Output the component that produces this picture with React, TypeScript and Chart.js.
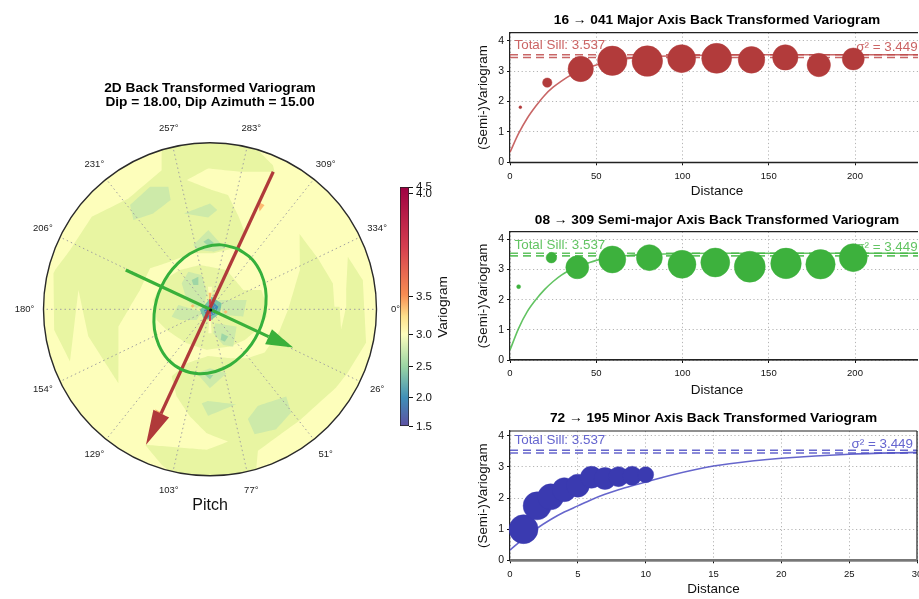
import React, { useEffect, useRef } from "react";
import { Chart, registerables } from "chart.js";

Chart.register(...registerables);
Chart.defaults.font.family = "'Liberation Sans', Arial, sans-serif";
Chart.defaults.color = "#111";

type P = [number, number];

// ---------- Polar panel (lag plane, rim at 500 units) ----------
const thetaDegrees = [0, 25.71, 51.43, 77.14, 102.86, 128.57, 154.29, 180, 205.71, 231.43, 257.14, 282.86, 308.57, 334.29];
const thetaLabels = ["0°", "26°", "51°", "77°", "103°", "129°", "154°", "180°", "206°", "231°", "257°", "283°", "309°", "334°"];

const band275Main: P[] = [[-470,108],[-465,118],[-420,178],[-355,278],[-245,333],[-145,418],[-145,480],[-100,490],[-40,498],[20,499],[80,493],[144,478],[189,433],[194,413],[94,413],[-6,423],[-70,388],[6,358],[54,343],[84,283],[104,233],[90,188],[10,168],[-55,168],[-120,143],[-180,123],[-210,58],[-240,8],[-275,-52],[-275,-222],[-365,-82],[-395,58],[-420,-157],[-468,-62]];
const band275Centre: P[] = [[-160,-32],[-170,28],[-140,88],[-90,118],[-30,133],[50,118],[100,58],[154,58],[169,18],[170,-22],[140,-62],[105,-92],[60,-112],[-10,-122],[-70,-102],[-130,-62]];
const band275South: P[] = [[269,226],[324,153],[369,78],[374,8],[389,8],[394,-60],[409,8],[409,58],[414,158],[459,88],[464,-8],[469,-100],[414,-190],[379,-235],[274,-330],[144,-425],[139,-480],[75,-494],[0,-499],[-75,-494],[-125,-484],[-145,-467],[-195,-407],[-10,-422],[55,-397],[-10,-372],[-60,-322],[-100,-262],[-115,-202],[-70,-162],[-6,-140],[64,-147],[114,-147],[164,-130],[209,-65],[235,0],[255,68],[270,118]];

const band250Rings: P[][] = [
  [[-240,313],[-180,368],[-125,368],[-118,328],[-170,288],[-230,268]],
  [[-78,288],[0,318],[22,298],[-5,276]],
  [[-50,193],[-5,238],[45,183],[10,173],[-40,178]],
  [[-85,78],[-65,113],[-25,103],[-10,53],[-15,18],[-40,3],[-70,28]],
  [[25,28],[110,28],[100,-22],[40,-17]],
  [[-115,-22],[-95,13],[-25,-7],[-40,-32],[-90,-32]],
  [[15,-42],[80,-52],[70,-112],[40,-107],[10,-72]],
  [[-40,-192],[0,-177],[50,-192],[0,-237]],
  [[-25,-282],[-6,-275],[79,-285],[-6,-320]],
  [[114,-330],[144,-290],[229,-262],[244,-310],[199,-360],[134,-375]],
];
const band225Rings: P[][] = [
  [[-20,203],[-5,213],[12,200],[-5,190]],
  [[-55,88],[-35,98],[-35,73],[-50,73]],
  [[35,-72],[55,-82],[45,-97],[32,-92]],
  [[-15,-197],[10,-197],[0,-210]],
];
const band200Ring: P[] = [[-30,-2],[5,38],[35,18],[30,-12],[5,-32],[-20,-27]];
const band175Ring: P[] = [[-18,-2],[8,23],[25,8],[15,-14],[-10,-27]];
const band150Ring: P[] = [[-10,0],[5,8],[8,-7],[-5,-14]];
const band300Rings: P[][] = [
  [[-6,68],[0,0],[6,68]],
  [[-5,-72],[0,0],[5,-72]],
];
const band325Rings: P[][] = [
  [[-4,50],[0,0],[4,50]],
  [[-58,10],[-52,15],[-46,10],[-52,5]],
  [[41,-8],[47,-3],[53,-8],[47,-13]],
  [[144,323],[164,313],[149,293]],
  [[-165,-300],[-145,-310],[-160,-317]],
];
const band400Ring: P[] = [[-3,30],[3,30],[3,-35],[-3,-35]];

const majorArrowLine: P[] = [[190,413],[-147,-313]];
const majorArrowHead: P[] = [[-192,-407],[-170,-302],[-123,-325]];
const semiArrowLine: P[] = [[-253,118],[176,-82]];
const semiArrowHead: P[] = [[250,-115],[186,-60],[166,-105]];
const ellipseTiltDeg = 65;
const ellipseAngles = [0,15,30,45,60,75,90,105,120,135,150,165,180,195,210,225,240,255,270,285,300,315,330,345,360];
const ellipseRadii = [200,196.5,187.5,177.5,168.5,163,161,163,168.5,177.5,187.5,196.5,200,196.5,187.5,177.5,168.5,163,161,163,168.5,177.5,187.5,196.5,200];
const centreMark: P[] = [[2,-2]];

// ---------- Colour bar ----------
const cbarLabels = ["1.5", "2.0", "2.5", "3.0", "3.5", "4.0", "4.5"];
const cbarPositions = [0, 0.119, 0.25, 0.384, 0.543, 0.972, 1];
const cbarStopAt = [0, 0.12, 0.25, 0.385, 0.46, 0.55, 0.75, 1];
const cbarStopColors = ["#5e4fa2", "#3f8fb8", "#99d5a4", "#fefebd", "#fee08b", "#f88d52", "#d53e4f", "#9e0142"];

// ---------- Variograms ----------
const totalSill = 3.537;
const sigmaSq = 3.449;

const majorLag = [6, 21.6, 41, 59.3, 79.6, 99.5, 119.8, 140, 159.6, 179, 199];
const majorGamma = [1.81, 2.62, 3.07, 3.34, 3.33, 3.41, 3.42, 3.37, 3.45, 3.2, 3.4];
const majorPairs = [2, 22, 161, 216, 234, 196, 225, 177, 161, 137, 121];
const majorModelLag = [0, 5, 10, 15, 20, 25, 30, 35, 40, 50, 60, 70, 80, 100, 120, 150, 240];
const majorModel = [0.33, 0.95, 1.45, 1.85, 2.2, 2.47, 2.68, 2.86, 3.0, 3.2, 3.33, 3.42, 3.47, 3.51, 3.53, 3.537, 3.537];

const semiLag = [5, 24, 39, 59.3, 80.8, 99.7, 119, 139, 160, 180, 199];
const semiGamma = [2.43, 3.39, 3.07, 3.33, 3.39, 3.17, 3.23, 3.09, 3.2, 3.17, 3.39];
const semiPairs = [4, 28, 132, 182, 169, 196, 210, 240, 234, 216, 196];
const semiModelLag = [0, 5, 10, 15, 20, 25, 30, 35, 40, 50, 60, 70, 80, 100, 120, 240];
const semiModel = [0.33, 1.05, 1.6, 2.0, 2.33, 2.6, 2.82, 2.98, 3.1, 3.3, 3.41, 3.47, 3.5, 3.53, 3.537, 3.537];

const minorLag = [1, 2, 3, 4, 5, 6, 7, 8, 9, 10];
const minorGamma = [1.0, 1.75, 2.04, 2.27, 2.4, 2.67, 2.63, 2.69, 2.72, 2.75];
const minorPairs = [210, 196, 169, 144, 132, 121, 121, 100, 90, 64];
const minorModelLag = [0, 1, 2, 3, 4, 5, 6, 7, 8, 9, 10, 12, 15, 18, 20, 25, 30];
const minorModel = [0.33, 0.7, 1.03, 1.31, 1.55, 1.75, 1.95, 2.12, 2.27, 2.4, 2.52, 2.75, 3.03, 3.2, 3.28, 3.41, 3.47];

const xy = (r: P[]) => r.map(([x, y]) => ({ x, y }));

function PolarPanel() {
  const ref = useRef<HTMLCanvasElement>(null);
  useEffect(() => {
    const ring = (pts: P[], color: string) => ({
      data: xy(pts), showLine: true, fill: "shape", backgroundColor: color, borderWidth: 0, pointRadius: 0, tension: 0.0001,
    });
    const RED = "#b03a3a";
    const GREEN = "#3ab03a";
    const spokes = thetaDegrees.map((d) => {
      const a = (d * Math.PI) / 180;
      return {
        data: [{ x: 0, y: 0 }, { x: 500 * Math.cos(a), y: -500 * Math.sin(a) }],
        showLine: true, borderColor: "#a0a0a0", borderWidth: 1, borderDash: [1.5, 3], pointRadius: 0, fill: false,
      };
    });
    const ellipse = ellipseAngles.map((p, i) => {
      const a = ((p + ellipseTiltDeg) * Math.PI) / 180;
      return { x: ellipseRadii[i] * Math.cos(a), y: ellipseRadii[i] * Math.sin(a) };
    });
    const paint: any[] = [
      ring(band275Main, "#e8f5a2"),
      ring(band275Centre, "#e8f5a2"),
      ring(band275South, "#e8f5a2"),
      ...band250Rings.map((r) => ring(r, "#cdeaa9")),
      ...band225Rings.map((r) => ring(r, "#9fd6a6")),
      ring(band200Ring, "#78c6a6"),
      ring(band175Ring, "#3f8fb8"),
      ring(band150Ring, "#4a4f9e"),
      ...band300Rings.map((r) => ring(r, "#fefebd")),
      ...band325Rings.map((r) => ring(r, "#fdbb70")),
      ring(band400Ring, "#d53e4f"),
      ...spokes,
      { data: xy(majorArrowLine), showLine: true, borderColor: RED, borderWidth: 3.2, pointRadius: 0, fill: false },
      ring(majorArrowHead, RED),
      { data: ellipse, showLine: true, borderColor: "#35b03c", borderWidth: 3, pointRadius: 0, fill: false, tension: 0.4 },
      { data: xy(semiArrowLine), showLine: true, borderColor: GREEN, borderWidth: 3.2, pointRadius: 0, fill: false },
      ring(semiArrowHead, GREEN),
      { data: xy(centreMark), pointRadius: 1.6, pointBackgroundColor: "#111", pointBorderWidth: 0 },
    ];
    paint.forEach((d, i) => (d.order = paint.length - i));
    const frame = {
      id: "polarFrame",
      beforeDatasetsDraw(c: any) {
        const g = c.ctx, X = c.scales.x, Y = c.scales.y;
        const cx = X.getPixelForValue(0), cy = Y.getPixelForValue(0), R = X.getPixelForValue(500) - cx;
        g.save(); g.beginPath(); g.arc(cx, cy, R, 0, Math.PI * 2); g.fillStyle = "#fdfebb"; g.fill(); g.restore();
      },
      afterDatasetsDraw(c: any) {
        const g = c.ctx, X = c.scales.x, Y = c.scales.y;
        const cx = X.getPixelForValue(0), cy = Y.getPixelForValue(0), R = X.getPixelForValue(500) - cx;
        g.save();
        g.beginPath(); g.arc(cx, cy, R, 0, Math.PI * 2); g.strokeStyle = "#2a2a2a"; g.lineWidth = 1.4; g.stroke();
        g.fillStyle = "#222"; g.font = "9.5px 'Liberation Sans'"; g.textAlign = "center"; g.textBaseline = "middle";
        thetaDegrees.forEach((d, i) => {
          const a = (d * Math.PI) / 180;
          g.fillText(thetaLabels[i], X.getPixelForValue(557 * Math.cos(a)), Y.getPixelForValue(-557 * Math.sin(a)));
        });
        g.restore();
      },
    };
    const chart = new Chart(ref.current!, {
      type: "scatter",
      data: { datasets: paint },
      plugins: [frame],
      options: {
        responsive: false, animation: false, events: [],
        layout: { padding: { left: 43.5, right: 53.5, top: 0, bottom: 0 } },
        plugins: {
          legend: { display: false }, tooltip: { enabled: false },
          title: {
            display: true,
            text: ["2D Back Transformed Variogram", "Dip = 18.00, Dip Azimuth = 15.00"],
            color: "#000", font: { size: 13.7, weight: "bold", lineHeight: 1.03 },
            padding: { top: 81.5, bottom: 33.1 },
          },
        },
        scales: {
          x: {
            min: -500, max: 500, grid: { display: false }, border: { display: false }, ticks: { display: false },
            title: { display: true, text: "Pitch", color: "#111", font: { size: 16 }, padding: { bottom: 24.4, top: 0 } },
            afterFit: (s: any) => { s.height = 64.2; },
          },
          y: { min: -500, max: 500, display: false },
        },
      } as any,
    });
    return () => chart.destroy();
  }, []);
  return <canvas ref={ref} width={430} height={540} style={{ position: "absolute", left: 0, top: 0 }} />;
}

function ColorBar() {
  const ref = useRef<HTMLCanvasElement>(null);
  useEffect(() => {
    const fillBar = (c: any) => {
      const a = c.chart.chartArea;
      if (!a) return "#fff";
      const g = c.chart.ctx.createLinearGradient(0, a.bottom, 0, a.top);
      cbarStopAt.forEach((s, i) => g.addColorStop(s, cbarStopColors[i]));
      return g;
    };
    const label = {
      id: "cbarLabel",
      afterDraw(c: any) {
        const g = c.ctx;
        g.save(); g.translate(48.5, 137); g.rotate(-Math.PI / 2);
        g.font = "13.6px 'Liberation Sans'"; g.fillStyle = "#111"; g.textAlign = "center"; g.textBaseline = "middle";
        g.fillText("Variogram", 0, 0); g.restore();
      },
    };
    const chart = new Chart(ref.current!, {
      type: "bar",
      data: { labels: ["Variogram"], datasets: [{ data: [1], backgroundColor: fillBar, borderColor: "#222", borderWidth: 1, borderSkipped: false, barPercentage: 1, categoryPercentage: 1 }] },
      plugins: [label],
      options: {
        responsive: false, animation: false, events: [],
        layout: { padding: { left: 5, right: 0, top: 17, bottom: 13.5 } },
        plugins: { legend: { display: false }, tooltip: { enabled: false } },
        scales: {
          x: { display: false },
          y: {
            position: "right", min: 0, max: 1,
            afterBuildTicks: (s: any) => { s.ticks = cbarPositions.map((value) => ({ value })); },
            afterFit: (s: any) => { s.width = 61; },
            grid: { drawOnChartArea: false, tickLength: 4, tickColor: "#111" },
            border: { display: false },
            ticks: { autoSkip: false, padding: 3, color: "#111", font: { size: 11.5 }, callback: (_: any, i: number) => cbarLabels[i] },
          },
        },
      } as any,
    });
    return () => chart.destroy();
  }, []);
  return <canvas ref={ref} width={75} height={270} style={{ position: "absolute", left: 395, top: 170 }} />;
}

type VProps = {
  title: string; top: number; height: number; clipW: number; canvasW: number; plotRightPad: number;
  xMax: number; xStep: number; yMax: number; xH: number; titleTop: number; titleBottom: number; xTitlePad: number;
  lag: number[]; gamma: number[]; pairs: number[]; modelLag: number[]; model: number[];
  marker: string; edge: string; line: string; text: string; sillY: number; sigmaY: number; sigmaRight: number;
  rightSpine: boolean; bottomColor: string; bottomWidth: number;
};

function Variogram(p: VProps) {
  const ref = useRef<HTMLCanvasElement>(null);
  useEffect(() => {
    const deco = {
      id: "deco",
      beforeDatasetsDraw(c: any) {
        const g = c.ctx, a = c.chartArea;
        g.save(); g.font = "13.4px 'Liberation Sans'"; g.fillStyle = p.text; g.textBaseline = "middle";
        g.textAlign = "left"; g.fillText("Total Sill: " + totalSill.toFixed(3), a.left + 4.5, a.top + p.sillY);
        g.textAlign = "right"; g.fillText("σ² = " + sigmaSq.toFixed(3), p.sigmaRight, a.top + p.sigmaY);
        g.restore();
      },
      afterDatasetsDraw(c: any) {
        const g = c.ctx, a = c.chartArea;
        g.save(); g.strokeStyle = "#222"; g.lineWidth = 1.2;
        g.beginPath(); g.moveTo(a.left, a.top); g.lineTo(a.right, a.top);
        if (p.rightSpine) { g.moveTo(a.right, a.top); g.lineTo(a.right, a.bottom); }
        g.stroke();
        g.strokeStyle = p.bottomColor; g.lineWidth = p.bottomWidth;
        g.beginPath(); g.moveTo(a.left, a.bottom); g.lineTo(a.right, a.bottom); g.stroke();
        g.restore();
      },
    };
    const flat = (v: number) => [{ x: 0, y: v }, { x: p.xMax, y: v }];
    const sillLine = (v: number, order: number) => ({ data: flat(v), showLine: true, borderColor: p.line, borderWidth: 1.6, borderDash: [8, 5], pointRadius: 0, order, fill: false });
    const axisCommon = {
      grid: { color: "#b5b5b5", tickColor: "#111", tickLength: 3, lineWidth: 1 },
      border: { display: true, color: "#222", width: 1.2, dash: [1.2, 2.6] },
    };
    const chart = new Chart(ref.current!, {
      type: "scatter",
      data: {
        datasets: [
          { data: p.lag.map((x, i) => ({ x, y: p.gamma[i] })), pointRadius: (c: any) => Math.sqrt(p.pairs[c.dataIndex] ?? 0), pointBackgroundColor: p.marker, pointBorderColor: p.edge, pointBorderWidth: 1, order: 1, clip: false },
          { data: p.modelLag.map((x, i) => ({ x, y: p.model[i] })), showLine: true, cubicInterpolationMode: "monotone", borderColor: p.line, borderWidth: 1.6, pointRadius: 0, order: 2, fill: false },
          sillLine(totalSill, 3),
          sillLine(sigmaSq, 4),
        ],
      },
      plugins: [deco],
      options: {
        responsive: false, animation: false, events: [],
        layout: { padding: { left: 0, right: p.plotRightPad, top: 0, bottom: 0 } },
        plugins: {
          legend: { display: false }, tooltip: { enabled: false },
          title: { display: true, text: p.title, fullSize: false, color: "#000", font: { size: 13.7, weight: "bold", lineHeight: 1 }, padding: { top: p.titleTop, bottom: p.titleBottom + 0.3 } },
        },
        scales: {
          x: {
            ...axisCommon, min: 0, max: p.xMax,
            afterFit: (s: any) => { s.height = p.xH; },
            ticks: { stepSize: p.xStep, includeBounds: false, maxRotation: 0, autoSkip: false, font: { size: 9.5 }, color: "#111", padding: 5 },
            title: { display: true, text: "Distance", color: "#111", font: { size: 13.5 }, padding: { top: 0, bottom: p.xTitlePad + 0.3 } },
          },
          y: {
            ...axisCommon, min: 0, max: p.yMax,
            afterFit: (s: any) => { s.width = 40; },
            ticks: { stepSize: 1, includeBounds: false, font: { size: 10.5 }, color: "#111", padding: 3 },
            title: { display: true, text: "(Semi-)Variogram", color: "#111", font: { size: 13.4 }, padding: { top: 5.5, bottom: 0 } },
          },
        },
      } as any,
    });
    return () => chart.destroy();
  }, []);
  return (
    <div style={{ position: "absolute", left: 470, top: p.top, width: p.clipW, height: p.height, overflow: "hidden" }}>
      <canvas ref={ref} width={p.canvasW} height={p.height} style={{ display: "block" }} />
    </div>
  );
}

export default function App() {
  return (
    <div style={{ position: "fixed", left: 0, top: 0, width: 919, height: 599, overflow: "hidden", background: "#fff", filter: "blur(0.4px)" }}>
      <PolarPanel />
      <ColorBar />
      <Variogram title="16 → 041 Major Axis Back Transformed Variogram" top={5} height={195} clipW={448} canvasW={474} plotRightPad={20}
        xMax={240} xStep={50} yMax={4.263} xH={37.7} titleTop={8} titleBottom={5.7} xTitlePad={0.6}
        lag={majorLag} gamma={majorGamma} pairs={majorPairs} modelLag={majorModelLag} model={majorModel}
        marker="#b23b3b" edge="rgba(178,59,59,0.45)" line="rgba(190,75,75,0.85)" text="#cb6464" sillY={13} sigmaY={15} sigmaRight={447.7}
        rightSpine={false} bottomColor="#222" bottomWidth={1.2} />
      <Variogram title="08 → 309 Semi-major Axis Back Transformed Variogram" top={205} height={195} clipW={448} canvasW={474} plotRightPad={20}
        xMax={240} xStep={50} yMax={4.25} xH={40} titleTop={8} titleBottom={4.7} xTitlePad={1.6}
        lag={semiLag} gamma={semiGamma} pairs={semiPairs} modelLag={semiModelLag} model={semiModel}
        marker="#3db13d" edge="rgba(61,177,61,0.45)" line="rgba(70,185,70,0.85)" text="#62c462" sillY={13.3} sigmaY={15.3} sigmaRight={447.7}
        rightSpine={false} bottomColor="#222" bottomWidth={1.2} />
      <Variogram title="72 → 195 Minor Axis Back Transformed Variogram" top={405} height={194} clipW={449} canvasW={467} plotRightPad={20}
        xMax={30} xStep={5} yMax={4.157} xH={38.7} titleTop={6.3} titleBottom={5.7} xTitlePad={1.3}
        lag={minorLag} gamma={minorGamma} pairs={minorPairs} modelLag={minorModelLag} model={minorModel}
        marker="#3a3ab0" edge="rgba(58,58,176,0.45)" line="rgba(75,75,195,0.85)" text="#6565cf" sillY={9.7} sigmaY={13} sigmaRight={443}
        rightSpine={true} bottomColor="#777" bottomWidth={2.4} />
    </div>
  );
}
